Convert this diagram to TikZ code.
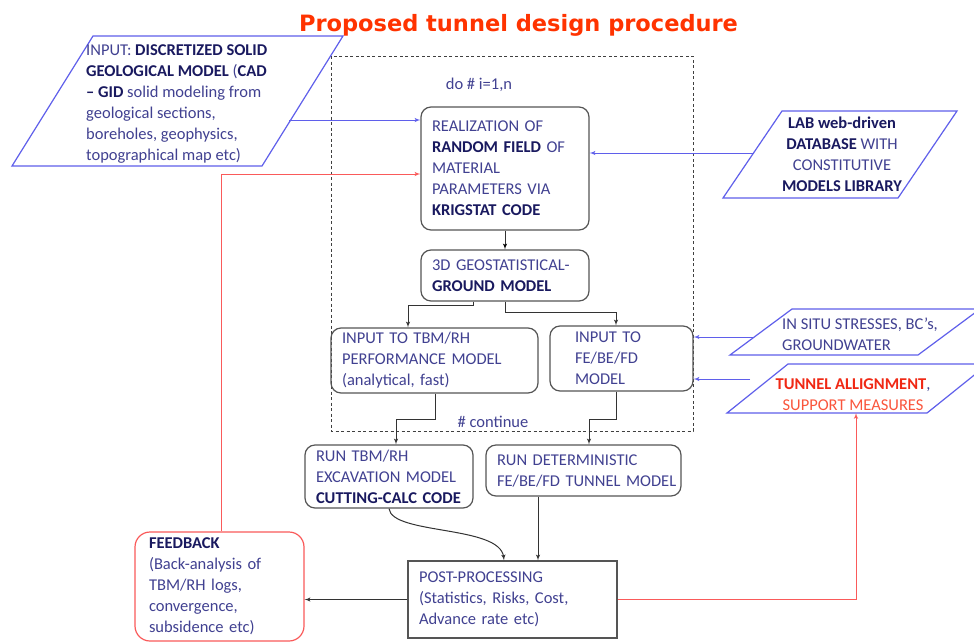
\documentclass[tikz,border=0pt]{standalone}
\usepackage{fontspec}
\setmainfont{Carlito}
\newfontfamily\titlefont{DejaVu Sans}
\usetikzlibrary{arrows,positioning}
\definecolor{txtblue}{RGB}{65,65,145}
\definecolor{navy}{RGB}{25,25,95}
\definecolor{lineblue}{RGB}{95,95,235}
\definecolor{boxgray}{RGB}{85,85,85}
\definecolor{fbred}{RGB}{250,90,90}
\definecolor{titlered}{RGB}{255,51,0}
\definecolor{alignred}{RGB}{240,40,20}
\definecolor{supred}{RGB}{250,85,60}
\newcommand{\hl}[1]{\textbf{\color{navy}#1}}

\begin{document}
\begin{tikzpicture}[x=1pt,y=-1pt,>=latex',
  font=\fontsize{16.5}{21}\selectfont,text=txtblue,
  rbox/.style={draw=boxgray,line width=1.2pt,rounded corners=10pt,align=left,inner xsep=11pt,inner ysep=0pt},
  sbox/.style={draw=boxgray,line width=1.2pt,align=left,inner xsep=11pt,inner ysep=0pt},
  fbbox/.style={draw=fbred,line width=1.2pt,rounded corners=15pt,align=left,inner xsep=14pt,inner ysep=0pt},
  para/.style={draw=lineblue,line width=1.2pt},
  arr/.style={->,draw=black!80,line width=1pt},
  bluearr/.style={->,draw=lineblue,line width=1pt},
  redarr/.style={->,draw=fbred,line width=1pt}]
\useasboundingbox[fill=white] (0,0) rectangle (974,643);

\node[font=\titlefont\bfseries\fontsize{22.5}{26}\selectfont,text=titlered] (title) at (518.5,25) {Proposed tunnel design procedure};

% loop frame
\draw[black!75,line width=1pt,dash pattern=on 3pt off 2.5pt] (331,56) rectangle (693,431);
\node (doloop) at (479,85) {do \# i=1,n};
\node (cont) at (493,422) {\# continue};

% input parallelograms
\draw[para] (93,36) -- (343,36) -- (262,166) -- (12,166) -- cycle;
\node[align=left,anchor=west,inner sep=0pt] (geoin) at (86,104.5)
  {INPUT: \hl{DISCRETIZED SOLID}\\ \hl{GEOLOGICAL MODEL} (\hl{CAD}\\ \hl{-- GID} solid modeling from\\ geological sections,\\ boreholes, geophysics,\\ topographical map etc)};
\draw[para] (782,111) -- (957,111) -- (898,198) -- (723,198) -- cycle;
\node[align=center,inner sep=0pt] (lab) at (842,154)
  {\hl{LAB web-driven}\\ \hl{DATABASE} WITH\\ CONSTITUTIVE\\ \hl{MODELS LIBRARY}};
\draw[para] (792,309) -- (980,309) -- (918,355) -- (730,355) -- cycle;
\node[align=left,anchor=west,inner sep=0pt] (insitu) at (782,334.5)
  {IN SITU STRESSES, BC’s,\\ GROUNDWATER};
\draw[para] (788,364) -- (988,364) -- (927,413) -- (727,413) -- cycle;
\node[align=center,inner sep=0pt] (tunnel) at (853,394.5)
  {\textbf{\color{alignred}TUNNEL ALLIGNMENT},\\ \color{supred}SUPPORT MEASURES};

% process boxes
\node[rbox,text width=146pt,minimum height=123pt] (real) at (505,168.5)
  {REALIZATION OF\\ \hl{RANDOM FIELD} OF\\ MATERIAL\\ PARAMETERS VIA\\ \hl{KRIGSTAT CODE}};
\node[rbox,text width=146pt,minimum height=51pt] (geo) at (505,275.5)
  {3D GEOSTATISTICAL-\\ \hl{GROUND MODEL}};
\node[rbox,text width=185pt,minimum height=65pt] (inTBM) at (434.5,360.5)
  {INPUT TO TBM/RH\\ PERFORMANCE MODEL\\ (analytical, fast)};
\node[rbox,inner xsep=25pt,text width=93pt,minimum height=65pt] (inFE) at (621.5,358.5)
  {INPUT TO\\ FE/BE/FD\\ MODEL};
\node[rbox,text width=146pt,minimum height=63pt] (runTBM) at (389,476.5)
  {RUN TBM/RH\\ EXCAVATION MODEL\\ \mbox{\hl{CUTTING-CALC CODE}}};
\node[rbox,text width=173pt,minimum height=51pt] (runDet) at (583.5,470.5)
  {RUN DETERMINISTIC\\ \mbox{FE/BE/FD TUNNEL MODEL}};
\node[sbox,text width=187pt,minimum height=77pt] (post) at (512.5,599.5)
  {POST-PROCESSING\\ (Statistics, Risks, Cost,\\ Advance rate etc)};
\node[fbbox,text width=141pt,minimum height=109pt] (feedback) at (219.5,586.5)
  {\hl{FEEDBACK}\\ (Back-analysis of\\ TBM/RH logs,\\ convergence,\\ subsidence etc)};

% blue inputs
\coordinate (geoout) at (289,120);
\coordinate (labout) at (754,153);
\coordinate (insout) at (754,337);
\coordinate (tunout) at (750,379);
\coordinate (tunin) at (856,413);
\draw[bluearr] (geoout) -- (geoout -| real.west);
\draw[bluearr] (labout) -- (labout -| real.east);
\draw[bluearr] (insout) -- (insout -| inFE.east);
\draw[bluearr] (tunout) -- (tunout -| inFE.east);

% main flow
\path[arr] (real) edge (geo);
\draw[arr] (geo.south -| 473,0) -- (473,305) -| (inTBM.north -| 408,0);
\draw[arr] (geo.south) -- (505,312) -| (inFE.north -| 616,0);
\draw[arr] (inTBM.south -| 435,0) -- (435,419) -| (runTBM.north -| 396,0);
\draw[arr] (inFE.south -| 616,0) -- (616,419) -| (runDet.north -| 589,0);
\draw[arr] (runTBM.south) .. controls (392,535) and (500,525) .. (post.north -| 504,0);
\draw[arr] (runDet.south -| 538,0) -- (post.north -| 538,0);
\draw[arr] (post.west) -- (post.west -| feedback.east);

% feedback loops
\draw[redarr] (post.east) -| (tunin);
\draw[redarr] (feedback.north -| 221,0) |- (real.west |- 0,174);
\end{tikzpicture}
\end{document}
